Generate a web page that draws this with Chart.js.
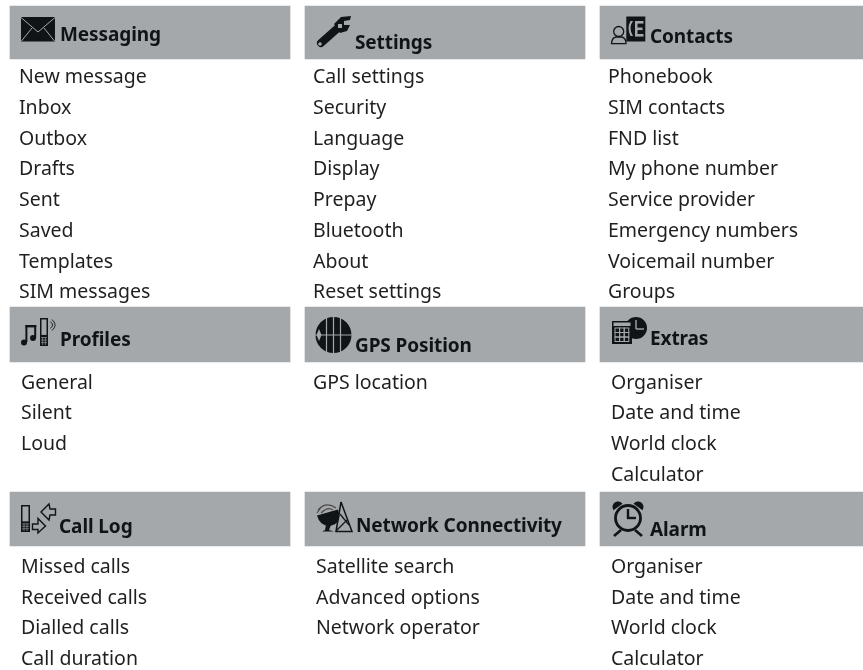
<!DOCTYPE html>
<html><head><meta charset="utf-8">
<script src="https://cdn.jsdelivr.net/npm/chart.js@4"></script>
<style>html,body{margin:0;padding:0;background:#fff}#w{width:863px;height:670px}canvas{display:block}</style>
</head><body><div id="w"><canvas id="c" width="863" height="670"></canvas></div>
<script>
const headers=["Messaging","Settings","Contacts","Profiles","GPS Position","Extras","Call Log","Network Connectivity","Alarm"];
const messagingItems=["New message","Inbox","Outbox","Drafts","Sent","Saved","Templates","SIM messages"];
const settingsItems=["Call settings","Security","Language","Display","Prepay","Bluetooth","About","Reset settings"];
const contactsItems=["Phonebook","SIM contacts","FND list","My phone number","Service provider","Emergency numbers","Voicemail number","Groups"];
const profilesItems=["General","Silent","Loud"];
const gpsItems=["GPS location"];
const extrasItems=["Organiser","Date and time","World clock","Calculator"];
const callLogItems=["Missed calls","Received calls","Dialled calls","Call duration"];
const networkItems=["Satellite search","Advanced options","Network operator"];
const alarmItems=["Organiser","Date and time","World clock","Calculator"];
const itemLists=[messagingItems,settingsItems,contactsItems,profilesItems,gpsItems,extrasItems,callLogItems,networkItems,alarmItems];

// layout
const panelCentre=[150,445,740], bandTop=[6,307,492], bandBottom=[59,362,546];
const itemX=[19,313,608,21,313,611,21,316,611], itemY0=[83,83,83,388.6,388.6,388.6,572.8,572.8,572.8], step=30.75;
const headX=[60,355,650,60,355,650,59,356,650], headY=[40.7,48.7,42.7,346,351.7,345,533,531.7,535.7];
const BAND='#a5a8aa',INK='#111416',TXT='#1f1f20';

const bandData=headers.map((h,i)=>({x:panelCentre[i%3],y:[bandTop[Math.floor(i/3)],bandBottom[Math.floor(i/3)]]}));
const headData=headers.map((h,i)=>({x:headX[i],y:headY[i],t:h}));
const itemData=[];itemLists.forEach((l,i)=>l.forEach((t,j)=>itemData.push({x:itemX[i],y:itemY0[i]+j*step,t})));

function poly(c,p,fill){c.beginPath();p.forEach((q,i)=>i?c.lineTo(q[0],q[1]):c.moveTo(q[0],q[1]));c.closePath();if(fill)c.fill();else c.stroke();}
function ln(c,a,b,d,e,w,col){c.beginPath();c.moveTo(a,b);c.lineTo(d,e);c.lineWidth=w;c.strokeStyle=col||INK;c.stroke();}
function phone(c,x,y,w,h){c.fillStyle=INK;c.fillRect(x,y,w,h);c.fillStyle=BAND;c.fillRect(x+1.5,y+1.5,w-3,h*0.55);
 c.strokeStyle=BAND;c.lineWidth=.6;for(let i=1;i<3;i++){c.beginPath();c.moveTo(x+i*w/3,y+h*.68);c.lineTo(x+i*w/3,y+h-1);c.stroke();}
 for(let i=0;i<3;i++){c.beginPath();c.moveTo(x+1,y+h*.7+i*h*.09);c.lineTo(x+w-1,y+h*.7+i*h*.09);c.stroke();}}
const icons=[
 c=>{c.fillStyle=INK;c.fillRect(21,17,34,24.5);ln(c,21,17.5,38,32,1,BAND);ln(c,55,17.5,38,32,1,BAND);ln(c,21.5,41,32,28,1,BAND);ln(c,54.5,41,44,28,1,BAND);},
 c=>{c.lineCap='round';ln(c,321,43,339,27,8);c.lineCap='butt';c.fillStyle=INK;poly(c,[[334,24],[341,17],[351,16],[350,20],[344,21],[344,25],[350,25],[347,31],[340,33]],1);c.fillStyle=BAND;c.beginPath();c.arc(320,44,1.8,0,7);c.fill();c.fillRect(338,24,4,4);},
 c=>{c.strokeStyle=INK;c.lineWidth=1.3;c.beginPath();c.arc(618.7,31.5,5,0,7);c.stroke();c.beginPath();c.moveTo(611.5,43.7);c.quadraticCurveTo(612,37.5,616,37);c.lineTo(622,37);c.quadraticCurveTo(626,38,626,43.7);c.closePath();c.stroke();
  c.fillStyle=INK;c.fillRect(626.3,16.5,19,25);c.fillStyle=BAND;c.fillRect(637,21,6.5,2.6);c.fillRect(637,27.5,5.5,2.6);c.fillRect(637,34,6.5,2.6);c.fillRect(635,21,2.5,15.6);c.beginPath();c.moveTo(633,21);c.quadraticCurveTo(628,28,633,36);c.lineTo(630.5,36);c.quadraticCurveTo(626.5,28,630.5,21);c.fill();},
 c=>{c.fillStyle=INK;c.beginPath();c.arc(24,342.5,3,0,7);c.fill();c.beginPath();c.arc(33,338,3,0,7);c.fill();c.fillRect(25.4,325,2,17);c.fillRect(34.2,325,2,13);c.fillRect(25.4,325,10.8,2.4);
  phone(c,40,318,8,28);c.strokeStyle=INK;c.lineWidth=.9;c.beginPath();c.arc(49,325,3.5,-1.2,1.2);c.stroke();c.beginPath();c.arc(49,325,6,-1.1,1.1);c.stroke();},
 c=>{c.fillStyle=INK;c.beginPath();c.arc(333.5,335,18,0,7);c.fill();[-7,0,7].forEach(d=>ln(c,333.5+d,316,333.5+d,354,1.2,BAND));ln(c,315,335,352,335,1.2,BAND);c.fillStyle=BAND;poly(c,[[319,329],[321.5,335],[319,341],[316.5,335]],1);},
 c=>{c.fillStyle=INK;c.beginPath();c.arc(636,328,11,0,7);c.fill();ln(c,636,320,636,329,1.4,BAND);ln(c,636,329,644,329,1.4,BAND);
  c.fillRect(612,321,20,23);c.fillStyle=BAND;c.fillRect(613.5,322.5,17,3.5);c.strokeStyle=BAND;c.lineWidth=1;for(let i=0;i<3;i++){c.strokeRect(615+i*4.6,328,4.6,4.5);c.strokeRect(615+i*4.6,332.5,4.6,4.5);c.strokeRect(615+i*4.6,337,4.6,4.5);}},
 c=>{phone(c,21,505,9,27);c.strokeStyle=INK;c.lineWidth=1.4;c.lineJoin='miter';poly(c,[[32.5,524],[38,524],[38,518.5],[45.5,526],[38,533],[38,529.5],[32.5,529.5]]);poly(c,[[55.5,509],[50,509],[49,504],[41,512],[49,520],[50,515],[55.5,515]]);},
 c=>{ln(c,317,513,321,507,1.2,'#4a4a4a');c.strokeStyle='#4a4a4a';c.lineWidth=1.2;c.beginPath();c.moveTo(318,510);c.quadraticCurveTo(326,501,336,508);c.stroke();c.beginPath();c.moveTo(321,513);c.quadraticCurveTo(328,506,333,510);c.stroke();
  c.fillStyle=INK;c.beginPath();c.moveTo(317,515.5);c.lineTo(338,509.5);c.quadraticCurveTo(343,524,329,526);c.quadraticCurveTo(320,526,317,515.5);c.fill();
  poly(c,[[326,525],[331,525],[329,530],[334,531.5],[322,531.5],[325,530]],1);c.lineWidth=1.5;c.strokeStyle=INK;c.beginPath();c.moveTo(341,502);c.lineTo(336,531.5);c.lineTo(352,531.5);c.lineTo(341,502);c.stroke();ln(c,336,531,347,520,1.2);ln(c,340,514,349,525,1.2);},
 c=>{c.strokeStyle=INK;c.lineWidth=2.8;c.beginPath();c.arc(628,518,12.5,0,7);c.stroke();ln(c,628,509,628,519,2.4);ln(c,627,518,636,518,2.4);ln(c,621,530,614,536,2.6);ln(c,635,530,642,536,2.6);c.fillStyle=INK;c.beginPath();c.arc(618,507,5.5,Math.PI*.8,Math.PI*1.8);c.fill();c.beginPath();c.arc(638,507,5.5,Math.PI*1.2,Math.PI*2.2);c.fill();}
];

const textAndIcons={id:'textAndIcons',afterDatasetsDraw(chart){
 const c=chart.ctx;c.save();c.textBaseline='alphabetic';c.textAlign='left';
 icons.forEach(f=>{c.save();f(c);c.restore();});
 c.fillStyle=INK;c.font='bold 19px "Noto Sans"';c.letterSpacing='-0.1px';
 chart.getDatasetMeta(1).data.forEach((p,i)=>c.fillText(headData[i].t,p.x,p.y));
 c.fillStyle=TXT;c.font='19.5px "Noto Sans"';c.letterSpacing='0px';
 chart.getDatasetMeta(2).data.forEach((p,i)=>c.fillText(itemData[i].t,p.x,p.y));
 c.restore();}};

new Chart(document.getElementById('c'),{
 data:{datasets:[
  {type:'bar',label:'bands',data:bandData,backgroundColor:BAND,barThickness:280,grouped:false,borderWidth:0},
  {type:'scatter',label:'headers',data:headData,pointRadius:0},
  {type:'scatter',label:'items',data:itemData,pointRadius:0}
 ]},
 options:{responsive:false,animation:false,layout:{padding:0},
  plugins:{legend:{display:false},title:{display:false},tooltip:{enabled:false}},
  scales:{x:{type:'linear',min:0,max:863,display:false,offset:false},y:{type:'linear',min:0,max:670,reverse:true,display:false}}},
 plugins:[textAndIcons]
});
</script></body></html>
